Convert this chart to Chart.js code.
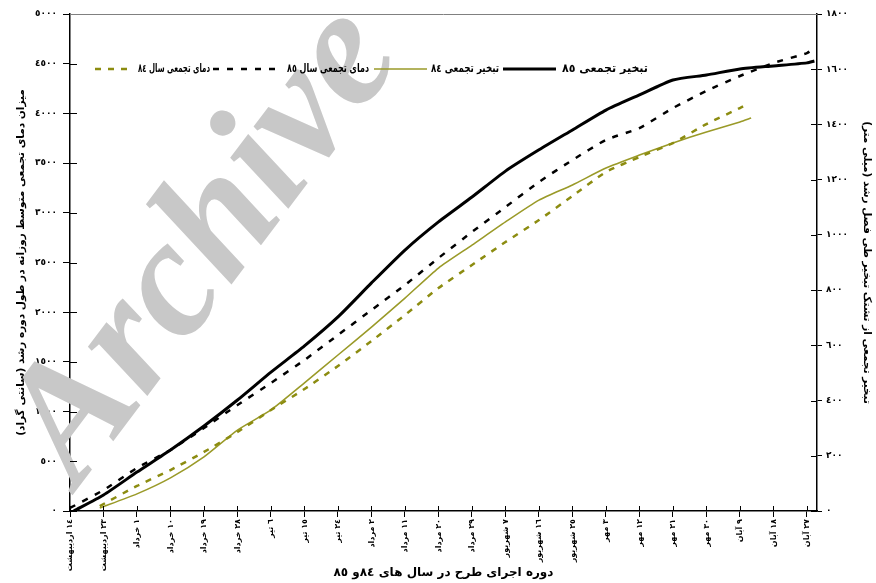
<!DOCTYPE html>
<html>
<head>
<meta charset="utf-8">
<script src="https://cdn.jsdelivr.net/npm/chart.js@4.4.1/dist/chart.umd.min.js"></script>
<style>
html,body{margin:0;padding:0;background:#fff;}
#wrap{position:relative;width:876px;height:583px;}
</style>
</head>
<body>
<div id="wrap"><canvas id="c" width="876" height="583"></canvas></div>
<script>
// ---- data ----
const xTickDays = [0,9,18,27,36,45,54,63,72,81,90,99,108,117,126,135,144,153,162,171,180,189,198];
const xTickLabels = ['١٤ اردیبهشت','٢٣ اردیبهشت','١ خرداد','١٠ خرداد','١٩ خرداد','٢٨ خرداد','٦ تیر','١٥ تیر','٢٤ تیر','٢ مرداد','١١ مرداد','٢٠ مرداد','٢٩ مرداد','٧ شهریور','١٦ شهریور','٢٥ شهریور','٣ مهر','١٢ مهر','٢١ مهر','٣٠ مهر','٩ آبان','١٨ آبان','٢٧ آبان'];
const leftTickValues = [0,500,1000,1500,2000,2500,3000,3500,4000,4500,5000];
const leftTickLabels = ['٠','٥٠٠','١٠٠٠','١٥٠٠','٢٠٠٠','٢٥٠٠','٣٠٠٠','٣٥٠٠','٤٠٠٠','٤٥٠٠','٥٠٠٠'];
const rightTickValues = [0,200,400,600,800,1000,1200,1400,1600,1800];
const rightTickLabels = ['٠','٢٠٠','٤٠٠','٦٠٠','٨٠٠','١٠٠٠','١٢٠٠','١٤٠٠','١٦٠٠','١٨٠٠'];

const seriesNames = ['دمای تجمعی سال ٨٤','دمای تجمعی سال ٨٥','تبخیر تجمعی ٨٤','تبخیر تجمعی ٨٥'];

// cumulative temperature 84 (left axis)
const daysTemp84 = [8,18,27,36,45,54,63,72,81,90,99,108,117,126,135,144,153,162,171,180,182];
const temp84 = [50,252,412,594,795,1016,1227,1459,1710,1972,2243,2475,2706,2927,3169,3410,3561,3702,3893,4054,4094];
// cumulative temperature 85 (left axis)
const daysTemp85 = [0,9,18,27,36,45,54,63,72,81,90,99,108,117,126,135,144,153,162,171,180,189,198,200];
const temp85 = [30,211,433,614,835,1066,1288,1519,1771,2022,2274,2545,2807,3058,3310,3531,3733,3853,4054,4226,4376,4507,4607,4658];
// cumulative evaporation 84 (right axis)
const daysEvap84 = [8,18,27,36,45,54,63,72,81,90,99,108,117,126,135,144,153,162,171,180,183];
const evap84 = [11,62,120,196,293,366,464,565,666,771,880,963,1047,1126,1181,1242,1289,1333,1373,1409,1423];
// cumulative evaporation 85 (right axis)
const daysEvap85 = [1,9,18,27,36,45,54,63,72,81,90,99,108,117,126,135,144,153,162,171,180,189,198,200];
const evap85 = [0,58,141,221,308,402,503,598,703,826,945,1047,1137,1231,1308,1380,1452,1507,1561,1579,1601,1612,1623,1630];

const pts = (xs, ys) => xs.map((x, i) => ({x: x, y: ys[i]}));

const OLIVE = '#8c8c10';
const OLIVE2 = '#9a9a28';
const FONT = '"DejaVu Sans", sans-serif';

const watermark = {
  id: 'watermark',
  beforeDatasetsDraw(chart) {
    const ctx = chart.ctx;
    ctx.save();
    ctx.translate(206, 246);
    ctx.rotate(-53 * Math.PI / 180);
    ctx.font = 'italic bold 168px "Liberation Serif", serif';
    ctx.fillStyle = '#c8c8c8';
    ctx.textAlign = 'center';
    ctx.textBaseline = 'middle';
    ctx.fillText('Archive', 0, 0);
    ctx.restore();
  }
};

const innerTicks = {
  id: 'innerTicks',
  afterDraw(chart) {
    const ctx = chart.ctx, a = chart.chartArea;
    const sx = chart.scales.x, sy = chart.scales.y, sy1 = chart.scales.y1;
    ctx.save();
    ctx.strokeStyle = '#000';
    ctx.lineWidth = 1;
    ctx.beginPath();
    sx.ticks.forEach(t => {
      const p = Math.round(sx.getPixelForValue(t.value)) + 0.5;
      ctx.moveTo(p, a.bottom); ctx.lineTo(p, a.bottom - 5);
    });
    sy.ticks.forEach(t => {
      const p = Math.round(sy.getPixelForValue(t.value)) + 0.5;
      ctx.moveTo(a.left, p); ctx.lineTo(a.left + 7, p);
    });
    sy1.ticks.forEach(t => {
      const p = Math.round(sy1.getPixelForValue(t.value)) + 0.5;
      ctx.moveTo(a.right, p); ctx.lineTo(a.right - 6, p);
    });
    ctx.stroke();
    ctx.strokeStyle = '#808080';
    ctx.beginPath();
    ctx.moveTo(a.left, a.top + 0.5);
    ctx.lineTo(a.right, a.top + 0.5);
    ctx.stroke();
    ctx.restore();
  }
};

const legendBox = {
  id: 'legendBox',
  afterDatasetsDraw(chart) {
    const ctx = chart.ctx;
    const y = 69;
    const items = [
      {ds: 0, x0: 95, x1: 134, tx: 138, tw: 72},
      {ds: 1, x0: 213, x1: 282, tx: 287, tw: 82},
      {ds: 2, x0: 374, x1: 427, tx: 431, tw: 68},
      {ds: 3, x0: 503, x1: 556, tx: 562, tw: 86}
    ];
    ctx.save();
    items.forEach(it => {
      const d = chart.data.datasets[it.ds];
      ctx.beginPath();
      ctx.strokeStyle = d.borderColor;
      ctx.lineWidth = d.borderWidth;
      ctx.setLineDash(d.borderDash || []);
      ctx.moveTo(it.x0, y);
      ctx.lineTo(it.x1, y);
      ctx.stroke();
      ctx.setLineDash([]);
      ctx.fillStyle = '#000';
      ctx.font = 'bold 11.5px ' + FONT;
      ctx.textAlign = 'left';
      ctx.textBaseline = 'middle';
      const w = ctx.measureText(d.label).width;
      const sx = Math.min(1, it.tw / w);
      ctx.save();
      ctx.translate(it.tx, y);
      ctx.scale(sx, 1);
      ctx.fillText(d.label, 0, 0);
      ctx.restore();
    });
    ctx.restore();
  }
};

new Chart(document.getElementById('c'), {
  type: 'line',
  data: {
    datasets: [
      {label: seriesNames[0], data: pts(daysTemp84, temp84), yAxisID: 'y', borderColor: OLIVE, borderWidth: 2.5, borderDash: [6, 7], pointRadius: 0, tension: 0.2, fill: false},
      {label: seriesNames[1], data: pts(daysTemp85, temp85), yAxisID: 'y', borderColor: '#000', borderWidth: 2.5, borderDash: [6, 8], pointRadius: 0, tension: 0.2, fill: false},
      {label: seriesNames[2], data: pts(daysEvap84, evap84), yAxisID: 'y1', borderColor: OLIVE2, borderWidth: 1.6, pointRadius: 0, tension: 0.2, fill: false},
      {label: seriesNames[3], data: pts(daysEvap85, evap85), yAxisID: 'y1', borderColor: '#000', borderWidth: 3, pointRadius: 0, tension: 0.2, fill: false}
    ]
  },
  options: {
    responsive: false,
    animation: false,
    layout: {padding: {top: 14, left: 0, right: 0, bottom: 0}},
    plugins: {legend: {display: false}, tooltip: {enabled: false}},
    scales: {
      x: {
        type: 'linear', min: 0, max: 200.7,
        afterBuildTicks: s => { s.ticks = xTickDays.map(v => ({value: v})); },
        afterFit: s => { s.height = 72; },
        border: {color: '#000', width: 1.5},
        grid: {drawOnChartArea: false, color: '#000', tickLength: 6},
        ticks: {
          autoSkip: false, minRotation: 90, maxRotation: 90, padding: 2,
          color: '#000', font: {family: FONT, size: 8, weight: 'bold'},
          callback: (v, i) => xTickLabels[i]
        },
        title: {display: true, text: 'دوره اجرای طرح در سال های ٨٤و ٨٥', color: '#000',
          font: {family: FONT, size: 12, weight: 'bold'}, padding: {top: 2, bottom: 3}}
      },
      y: {
        position: 'left', min: 0, max: 5000,
        afterBuildTicks: s => { s.ticks = leftTickValues.map(v => ({value: v})); },
        afterFit: s => { s.width = 70; },
        border: {color: '#000', width: 1.5},
        grid: {drawOnChartArea: false, color: '#000', tickLength: 7},
        ticks: {padding: 6, color: '#000', font: {family: FONT, size: 9, weight: 'bold'},
          callback: (v, i) => leftTickLabels[i]},
        title: {display: true, text: 'میزان دمای تجمعی متوسط روزانه در طول دوره رشد (سانتی گراد)', color: '#000',
          font: {family: FONT, size: 10.5, weight: 'bold'}, padding: {top: 15, bottom: 0}}
      },
      y1: {
        position: 'right', min: 0, max: 1800,
        afterBuildTicks: s => { s.ticks = rightTickValues.map(v => ({value: v})); },
        afterFit: s => { s.width = 59; },
        border: {color: '#000', width: 1.5},
        grid: {drawOnChartArea: false, color: '#000', tickLength: 5},
        ticks: {padding: 4, color: '#000', font: {family: FONT, size: 9, weight: 'bold'},
          callback: (v, i) => rightTickLabels[i]},
        title: {display: true, text: 'تبخیر تجمعی از تشتک تبخیر طی فصل رشد (میلی متر)', color: '#000',
          font: {family: FONT, size: 10.5, weight: 'bold'}, padding: {top: 3, bottom: 0}}
      }
    }
  },
  plugins: [watermark, legendBox, innerTicks]
});
</script>
</body>
</html>
